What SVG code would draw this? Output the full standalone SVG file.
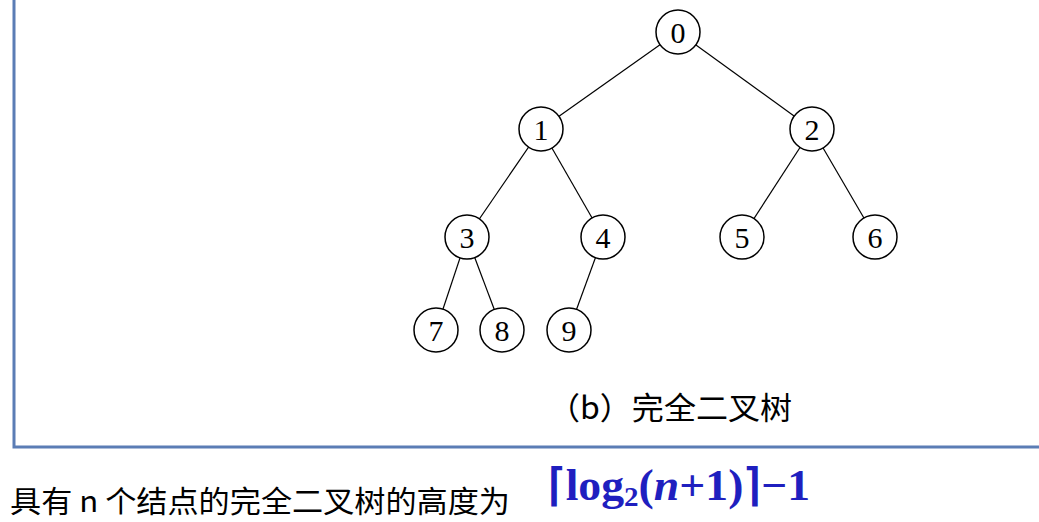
<svg xmlns="http://www.w3.org/2000/svg" width="1039" height="522" viewBox="0 0 1039 522">
<style>
.n circle{fill:#fff;stroke:#000;stroke-width:1.5}
.n text{font-family:"Liberation Serif",serif;font-size:30px;text-anchor:middle;fill:#000}
.e line{stroke:#000;stroke-width:1.2}
</style>
<rect width="1039" height="522" fill="#fff"/>
<path d="M14,0 V447 H1039" fill="none" stroke="#5b7db5" stroke-width="3"/>
<g class="e">
<line x1="678" y1="32" x2="541" y2="129"/><line x1="678" y1="32" x2="812" y2="129"/>
<line x1="541" y1="129" x2="467" y2="237"/><line x1="541" y1="129" x2="603" y2="237"/>
<line x1="812" y1="129" x2="742" y2="237"/><line x1="812" y1="129" x2="875" y2="237"/>
<line x1="467" y1="237" x2="436" y2="330"/><line x1="467" y1="237" x2="502" y2="330"/>
<line x1="603" y1="237" x2="569" y2="330"/>
</g>
<g id="n0" class="n"><circle cx="678" cy="32" r="22"/><text x="678" y="43">0</text></g>
<g id="n1" class="n"><circle cx="541" cy="129" r="22"/><text x="541" y="140">1</text></g>
<g id="n2" class="n"><circle cx="812" cy="129" r="22"/><text x="812" y="140">2</text></g>
<g id="n3" class="n"><circle cx="467" cy="237" r="22"/><text x="467" y="248">3</text></g>
<g id="n4" class="n"><circle cx="603" cy="237" r="22"/><text x="603" y="248">4</text></g>
<g id="n5" class="n"><circle cx="742" cy="237" r="22"/><text x="742" y="248">5</text></g>
<g id="n6" class="n"><circle cx="875" cy="237" r="22"/><text x="875" y="248">6</text></g>
<g id="n7" class="n"><circle cx="436" cy="330" r="22"/><text x="436" y="341">7</text></g>
<g id="n8" class="n"><circle cx="502" cy="330" r="22"/><text x="502" y="341">8</text></g>
<g id="n9" class="n"><circle cx="569" cy="330" r="22"/><text x="569" y="341">9</text></g>
<text x="548" y="419" font-family="'Noto Sans CJK SC',sans-serif" font-size="31" fill="#000" textLength="244" lengthAdjust="spacingAndGlyphs">（b）完全二叉树</text>
<text x="10" y="512" font-family="'Noto Sans CJK SC',sans-serif" font-size="30" fill="#000" textLength="500" lengthAdjust="spacingAndGlyphs">具有 n 个结点的完全二叉树的高度为</text>
<text x="548" y="500" font-family="'Liberation Serif',serif" font-size="44" font-weight="bold" fill="#1f1fbf" textLength="262" lengthAdjust="spacingAndGlyphs">⌈log<tspan font-size="28" dy="6">2</tspan><tspan dy="-6">(<tspan font-style="italic">n</tspan>+1)⌉−1</tspan></text>
</svg>
